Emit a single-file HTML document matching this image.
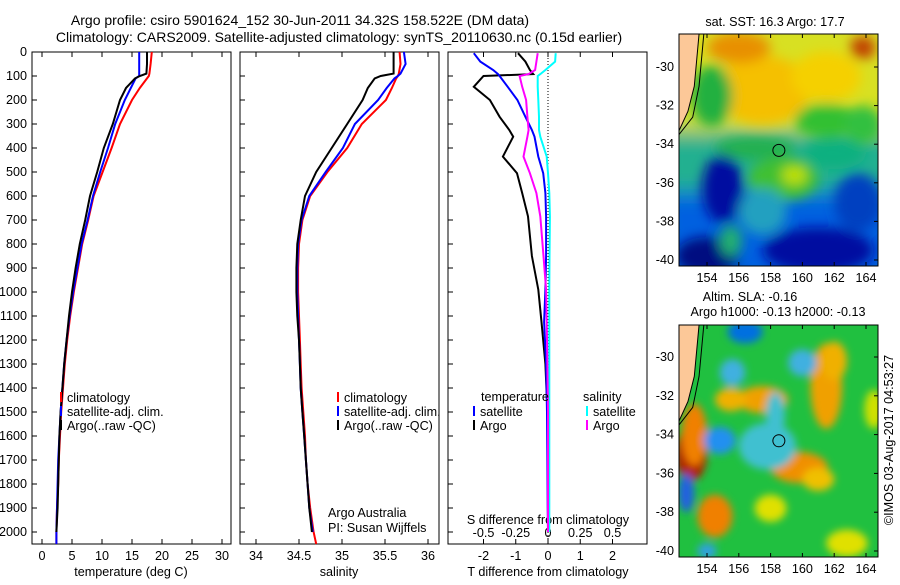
<!DOCTYPE html>
<html><head><meta charset="utf-8">
<style>
body{margin:0;background:#fff;width:900px;height:580px;overflow:hidden;font-family:"Liberation Sans",sans-serif;}
svg text{font-family:"Liberation Sans",sans-serif;font-size:12.6px;fill:#000;}
svg text.ttl{font-size:14px;}
</style></head>
<body>
<svg id="fig" width="900" height="580" viewBox="0 0 900 580" xmlns="http://www.w3.org/2000/svg">
<text class="ttl" x="300" y="25" text-anchor="middle">Argo profile: csiro 5901624_152 30-Jun-2011 34.32S 158.522E (DM data)</text>
<text class="ttl" x="339" y="42" text-anchor="middle">Climatology: CARS2009. Satellite-adjusted climatology: synTS_20110630.nc (0.15d earlier)</text>
<g id="panels"></g>
<g id="maps"></g>
<text transform="translate(893,440) rotate(-90)" text-anchor="middle">©IMOS 03-Aug-2017 04:53:27</text>
</svg>
<script>
const NS="http://www.w3.org/2000/svg";
const depths=[0,50,90,100,110,150,200,300,400,500,600,700,800,900,1000,1100,1200,1300,1400,1500,1600,1700,1800,1900,2000,2050];
const tClim=[18.3,18.1,17.9,17.8,17.5,16.3,15,13,11.6,10.1,8.6,7.7,6.7,6,5.3,4.7,4.2,3.8,3.5,3.2,3,2.8,2.7,2.5,2.4,2.4];
const tSat=[16.2,16.2,16.2,16.2,15.6,14.8,13.8,12.2,11,9.7,8.5,7.6,6.6,5.9,5.2,4.6,4.1,3.7,3.4,3.1,2.9,2.7,2.6,2.5,2.4,2.4];
const tArgo=[17.5,17.5,17.4,16.3,15.5,14,13,11.8,10.3,9.2,8,7.2,6.3,5.6,5,4.5,4.1,3.7,3.4,3.1,2.9,2.8,2.7,2.6,2.4,null];
const sClim=[35.67,35.68,35.66,35.65,35.63,35.58,35.51,35.23,35.06,34.83,34.63,34.54,34.5,34.49,34.49,34.5,34.51,34.52,34.53,34.55,34.57,34.58,34.6,34.63,34.67,34.7];
const sSat=[35.72,35.74,35.68,35.65,35.61,35.52,35.42,35.15,35.01,34.81,34.62,34.53,34.49,34.48,34.48,34.49,34.5,34.51,34.52,34.54,34.56,34.58,34.6,34.62,34.66,null];
const sArgo=[35.6,35.6,35.6,35.45,35.38,35.3,35.24,35.06,34.88,34.7,34.57,34.52,34.48,34.47,34.47,34.48,34.5,34.51,34.52,34.54,34.56,34.58,34.6,34.62,34.65,null];
const dDepth=[5,40,75,92,100,145,200,270,325,353,436,505,588,685,850,990,1125,1300,1500,1700,1900,2000];
const dTArgo=[-0.93,-0.7,-0.56,-0.46,-2,-2.3,-1.8,-1.5,-1.2,-1.08,-1.4,-0.96,-0.8,-0.62,-0.5,-0.3,-0.2,-0.08,-0.02,0,0,0];
const dTSat=[-2.3,-2.1,-1.7,-1.55,-1.5,-1.25,-0.95,-0.7,-0.5,-0.42,-0.3,-0.15,-0.08,-0.06,-0.06,-0.08,-0.12,-0.06,-0.03,-0.02,-0.01,0];
const dSArgo=[-0.08,-0.09,-0.1,-0.15,-0.22,-0.2,-0.17,-0.16,-0.15,-0.16,-0.19,-0.14,-0.09,-0.06,-0.035,-0.015,-0.01,-0.005,0,0,0,0];
const dSSat=[0.06,0.055,-0.02,-0.06,-0.08,-0.08,-0.075,-0.07,-0.07,-0.06,-0.01,0.0,0.01,0.015,0.012,0.01,0.01,0.01,0.01,0.01,0.01,0.01];
const yTicks=[0,100,200,300,400,500,600,700,800,900,1000,1100,1200,1300,1400,1500,1600,1700,1800,1900,2000];
const tTicks=[0,5,10,15,20,25,30];
const sTicks=[34,34.5,35,35.5,36];
const dTTicks=[-2,-1,0,1,2];
const dSTicks=[-0.5,-0.25,0,0.25,0.5];

const yD=d=>52+d*0.24;
const xT=t=>42+t*6;
const xS=s=>256+(s-34)*86;
const xDT=t=>548+t*32.25;
const xDS=s=>548+s*129;
const P=document.getElementById('panels');
function el(tag,attrs,parent){const e=document.createElementNS(NS,tag);for(const k in attrs)e.setAttribute(k,attrs[k]);(parent||P).appendChild(e);return e;}
function txt(x,y,s,anchor,parent){const t=el('text',{x:x,y:y,'text-anchor':anchor||'start'},parent);t.textContent=s;return t;}
function line(xs,ds,fx,color,name){let pts=[];for(let i=0;i<ds.length;i++){if(xs[i]==null)continue;pts.push(fx(xs[i]).toFixed(1)+','+yD(ds[i]).toFixed(1));}
 const p=el('polyline',{points:pts.join(' '),fill:'none',stroke:color,'stroke-width':2});
 
 }
function frame(x0,x1,name){const r=el('rect',{x:x0,y:52,width:x1-x0,height:492,fill:'none',stroke:'#000','stroke-width':1});
 
 
 yTicks.forEach(d=>{el('line',{x1:x0,x2:x0+5,y1:yD(d),y2:yD(d),stroke:'#000'});});}
frame(32,231,'temperature-panel');
yTicks.forEach(d=>{const t=txt(27,yD(d)+4,String(d),'end');
 
 });
tTicks.forEach(v=>{el('line',{x1:xT(v),x2:xT(v),y1:544,y2:539,stroke:'#000'});el('line',{x1:xT(v),x2:xT(v),y1:52,y2:57,stroke:'#000'});
 const t=txt(xT(v),560,String(v),'middle');
 
 });
txt(131,576,'temperature (deg C)','middle');
line(tClim,depths,xT,'#f00','temperature-climatology-line');
line(tSat,depths,xT,'#00f','temperature-satellite-line');
line(tArgo,depths,xT,'#000','temperature-argo-line');
frame(240,439,'salinity-panel');
sTicks.forEach(v=>{el('line',{x1:xS(v),x2:xS(v),y1:544,y2:539,stroke:'#000'});el('line',{x1:xS(v),x2:xS(v),y1:52,y2:57,stroke:'#000'});
 const t=txt(xS(v),560,String(v),'middle');
 
 });
txt(339,576,'salinity','middle');
line(sClim,depths,xS,'#f00','salinity-climatology-line');
line(sSat,depths,xS,'#00f','salinity-satellite-line');
line(sArgo,depths,xS,'#000','salinity-argo-line');
txt(328,517,'Argo Australia');
txt(328,532,'PI: Susan Wijffels');
frame(448,647,'difference-panel');
el('line',{x1:548,x2:548,y1:52,y2:544,stroke:'#000','stroke-dasharray':'1,2'});
dTTicks.forEach(v=>{el('line',{x1:xDT(v),x2:xDT(v),y1:544,y2:539,stroke:'#000'});
 const t=txt(xDT(v),560,String(v),'middle');
 
 });
dSTicks.forEach(v=>{el('line',{x1:xDS(v),x2:xDS(v),y1:52,y2:57,stroke:'#000'});
 const t=txt(xDS(v),537,String(v),'middle');
 
 });
txt(548,524,'S difference from climatology','middle');
txt(548,576,'T difference from climatology','middle');
line(dTArgo,dDepth,xDT,'#000','t-difference-argo-line');
line(dTSat,dDepth,xDT,'#00f','t-difference-satellite-line');
line(dSSat,dDepth,xDS,'#0ff','s-difference-satellite-line');
line(dSArgo,dDepth,xDS,'#f0f','s-difference-argo-line');
function leg(x,y,c,s,name){const g=el('g',{});
 el('line',{x1:x,x2:x,y1:y-10,y2:y,stroke:c,'stroke-width':2},g);txt(x+6,y,s,'start',g);}
leg(61,402,'#f00','climatology','legend-climatology');
leg(61,416,'#00f','satellite-adj. clim.','legend-satellite');
leg(61,430,'#000','Argo(..raw -QC)','legend-argo');
leg(338,402,'#f00','climatology','legend-climatology-2');
leg(338,416,'#00f','satellite-adj. clim.','legend-satellite-2');
leg(338,430,'#000','Argo(..raw -QC)','legend-argo-2');
txt(481,401,'temperature');
txt(583,401,'salinity');
leg(474,416,'#00f','satellite','legend-t-satellite');
leg(474,430,'#000','Argo','legend-t-argo');
leg(587,416,'#0ff','satellite','legend-s-satellite');
leg(587,430,'#f0f','Argo','legend-s-argo');

const M=document.getElementById('maps');
const mapLons=[154,156,158,160,162,164];
const mapLats=[-30,-32,-34,-36,-38,-40];
const sstBlobs=[[157.5,-31.2,3,1.8,'#f5c000'],[161.5,-30.5,2.2,1.3,'#f5d000'],[156,-29,2,0.8,'#e89000'],[163.8,-29,0.8,0.6,'#c04000'],[161.5,-32.8,2,0.9,'#30c030'],[154.3,-31.5,1.3,1.6,'#20b040'],[163.8,-33,1.2,1,'#30c040'],[155,-36.3,1.3,1.8,'#0010a0'],[158.8,-35.8,2.2,1.1,'#40c030'],[159.5,-35.6,0.8,0.5,'#c0e000'],[154,-39.8,2,1,'#000880'],[161,-39.5,3.5,1.2,'#0010a0'],[163.5,-37,1.5,1.5,'#0040c0'],[155.5,-39,0.7,0.8,'#20b070'],[157.5,-37.5,1.5,1.2,'#20a0c0'],[157,-34.2,2.5,0.6,'#20b050'],[162,-34.5,2,0.8,'#10b080']];
const slaBlobs=[[156.4,-28.7,1.1,0.6,'#0070e0'],[157.5,-32.2,1.6,0.7,'#f0a000'],[155.5,-32.2,1,0.6,'#f0b000'],[161.5,-31.5,1,2.2,'#f0a000'],[162,-30.2,0.8,1,'#f0b000'],[153,-35,1,1.4,'#b02000'],[153.2,-34,0.8,1.6,'#f08000'],[159.8,-35.7,1.8,0.8,'#f09000'],[161,-36.3,1,0.6,'#f0c000'],[154.5,-38.2,1.1,1.1,'#f08000'],[157.8,-34.6,1.8,1.2,'#40c0d0'],[154.8,-34.3,1,0.7,'#2090f0'],[158.3,-33,0.6,1.2,'#40c0d0'],[155.6,-30.8,0.8,0.7,'#40b0e0'],[160,-30.3,0.9,0.7,'#40b0e0'],[152.7,-37,0.5,1,'#2060e0'],[158,-37.8,1,0.7,'#e0e000'],[162.8,-39.6,1.3,0.7,'#e0e000'],[164.5,-32.7,0.6,1,'#d0e000'],[154,-40,0.6,0.4,'#30a0e0']];
function drawMap(x0,y0,yLat30,blobs,bg,id,blur){
 const w=199,h=yLat30.h, lx=l=>707+(l-154)*15.9, ly=l=>yLat30.y+(-30-l)*yLat30.s;
 const g=el('g',{},M);
 const defs=el('defs',{},g);
 const cp=el('clipPath',{id:id+'-clip'},defs);el('rect',{x:x0,y:y0,width:w,height:h},cp);
 const f=el('filter',{id:id+'-blur',x:'-50%',y:'-50%',width:'200%',height:'200%'},defs);el('feGaussianBlur',{stdDeviation:blur},f);
 const f2=el('filter',{id:id+'-blur2',x:'-20%',y:'-20%',width:'140%',height:'140%'},defs);el('feGaussianBlur',{stdDeviation:10},f2);
 const inner=el('g',{'clip-path':'url(#'+id+'-clip)'},g);
 el('rect',{x:x0,y:y0,width:w,height:h,fill:bg},inner);
 if(id==='sst-map'){const bgb=el('g',{filter:'url(#'+id+'-blur2)'},inner);
  el('rect',{x:x0-20,y:y0-20,width:w+40,height:ly(-33.3)-y0+20,fill:'#d8e020'},bgb);
  el('rect',{x:x0-20,y:ly(-33.3),width:w+40,height:ly(-36.5)-ly(-33.3),fill:'#20b090'},bgb);
  el('rect',{x:x0-20,y:ly(-36.5),width:w+40,height:y0+h-ly(-36.5)+20,fill:'#0060e0'},bgb);}
 const bg2=el('g',{filter:'url(#'+id+'-blur)'},inner);
 blobs.forEach(b=>{el('ellipse',{cx:lx(b[0]),cy:ly(b[1]),rx:b[2]*15.9,ry:b[3]*yLat30.s,fill:b[4]},bg2);});
 el('polygon',{points:`${x0},${y0} ${lx(153.5)},${y0} ${lx(153.2)},${ly(-31)} ${lx(152.8)},${ly(-32.3)} ${x0},${ly(-33.3)}`,fill:'#fcc898',stroke:'#000'},inner);
 el('polyline',{points:`${lx(153.8)},${y0} ${lx(153.5)},${ly(-31)} ${lx(153.1)},${ly(-32.6)} ${x0},${ly(-33.5)}`,fill:'none',stroke:'#000'},inner);
 el('circle',{cx:lx(158.52),cy:ly(-34.32),r:6,fill:'none',stroke:'#000'},inner);
 el('rect',{x:x0,y:y0,width:w,height:h,fill:'none',stroke:'#000'},g);
 mapLons.forEach(l=>{el('line',{x1:lx(l),x2:lx(l),y1:y0,y2:y0+4,stroke:'#000'},g);el('line',{x1:lx(l),x2:lx(l),y1:y0+h,y2:y0+h-4,stroke:'#000'},g);
  const t=txt(lx(l),y0+h+16,String(l),'middle',g);});
 mapLats.forEach(l=>{el('line',{x1:x0+w,x2:x0+w-4,y1:ly(l),y2:ly(l),stroke:'#000'},g);
  const t=txt(x0-5,ly(l)+4,String(l),'end',g);});
}
drawMap(679,34,{y:67,s:19.3,h:232},sstBlobs,'#20b040','sst-map',6);
drawMap(679,325,{y:357,s:19.4,h:232},slaBlobs,'#20c040','sla-map',4);
const t1=txt(775,26,'sat. SST: 16.3 Argo: 17.7','middle',M);
const t2=txt(750,301,'Altim. SLA: -0.16','middle',M);
const t3=txt(778,316,'Argo h1000: -0.13 h2000: -0.13','middle',M);
</script>
</body></html>
